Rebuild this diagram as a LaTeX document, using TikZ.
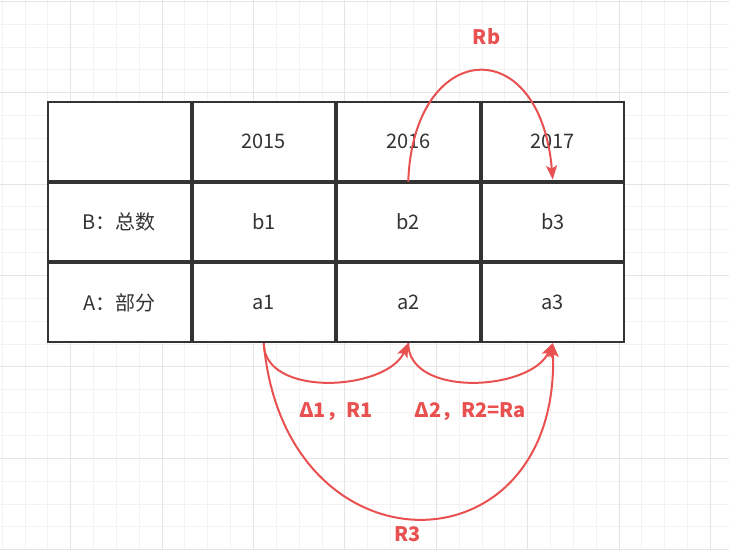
\documentclass[tikz,border=0pt]{standalone}
\usepackage{fontspec}
\setmainfont{Noto Sans CJK SC}
\usetikzlibrary{positioning,arrows.meta}
\definecolor{cellline}{HTML}{333333}
\definecolor{relred}{HTML}{E95050}
\definecolor{gridminor}{HTML}{F2F2F2}
\definecolor{gridmajor}{HTML}{E5E5E5}

\begin{document}
\begin{tikzpicture}[x=1pt, y=-1pt,
				cell/.style={rectangle, draw=cellline, line width=2pt, fill=white, text=cellline, minimum width=142.5pt, minimum height=78.7pt, font=\fontsize{20}{24}\selectfont},
				rel/.style={text=relred, font=\fontsize{20}{24}\selectfont\bfseries},
				minorline/.style={draw=gridminor, line width=1pt},
				majorline/.style={draw=gridmajor, line width=1pt}
			]
			\useasboundingbox (0,0) rectangle (729,550);
			% background grid
			\foreach \k in {0,...,31} \draw[minorline] ({2.15+\k*22.85},0) -- ({2.15+\k*22.85},550);
			\foreach \k in {0,...,24} \draw[minorline] (0,{1.3+\k*22.85}) -- (729,{1.3+\k*22.85});
			\foreach \k in {0,...,7} \draw[majorline] ({70.7+\k*91.4},0) -- ({70.7+\k*91.4},550);
			\foreach \k in {0,...,6} \draw[majorline] (0,{1.3+\k*91.4}) -- (729,{1.3+\k*91.4});
			% table
			\node[cell] (corner) at (119.25,141.3) {};
			\node[cell] (yr15) [right=0mm of corner] {2015};
			\node[cell] (yr16) [right=0mm of yr15] {2016};
			\node[cell] (yr17) [right=0mm of yr16] {2017};
			\node[cell] (totallabel) [below=0mm of corner] {B：总数};
			\node[cell] (b1) [right=0mm of totallabel] {b1};
			\node[cell] (b2) [right=0mm of b1] {b2};
			\node[cell] (b3) [right=0mm of b2] {b3};
			\node[cell] (partlabel) [below=0mm of totallabel] {A：部分};
			\node[cell] (a1) [right=0mm of partlabel] {a1};
			\node[cell] (a2) [right=0mm of a1] {a2};
			\node[cell] (a3) [right=0mm of a2] {a3};
			\begin{scope}[draw=relred, line width=2pt, -{Stealth[length=14pt, width=11pt, inset=3pt]}]
			\draw (a1.south) .. controls +(0,55) and +(-22,48) .. (a2.south) node[rel, midway, below=17pt, xshift=8pt] {Δ1，R1};
			\draw (a2.south) .. controls +(0,55) and +(-22,48) .. (a3.south) node[rel, midway, below=17pt, xshift=-2pt] {Δ2，R2=Ra};
			\draw (a1.south) .. controls +(21,235) and +(7,233) .. (a3.south) node[rel, midway, below=4pt, xshift=-11pt] {R3};
			\draw (b2.north) .. controls +(5,-142) and +(-13,-150) .. ([yshift=2pt]b3.north) node[rel, midway, above=22pt, xshift=9pt] {Rb};
			\end{scope}
			\end{tikzpicture}
\end{document}
